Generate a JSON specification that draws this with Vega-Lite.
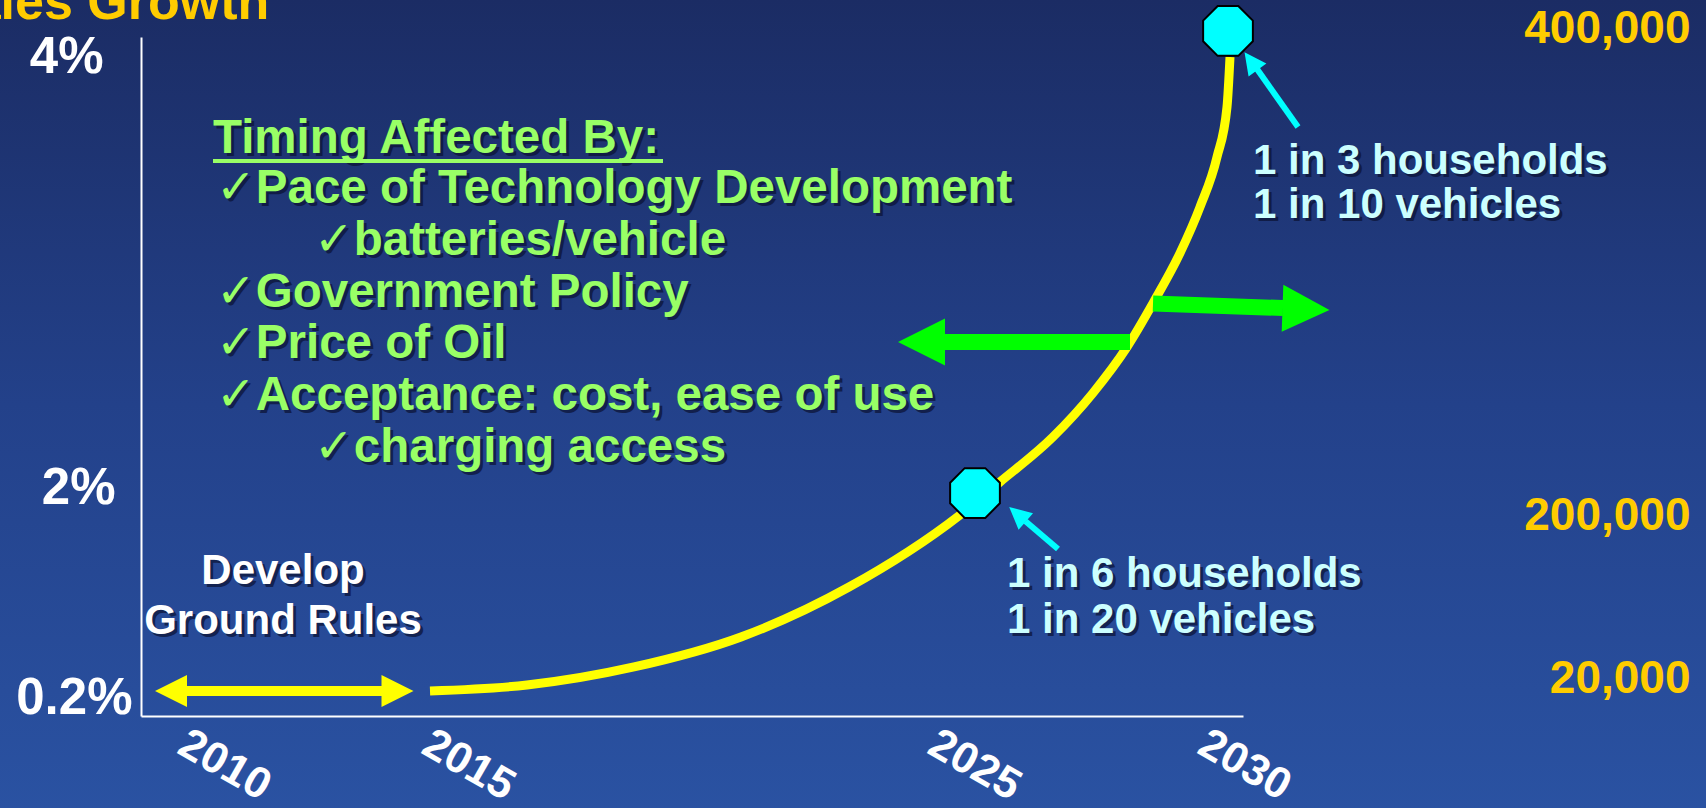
{
  "$schema": "https://vega.github.io/schema/vega-lite/v6.json",
  "width": 1706,
  "height": 808,
  "autosize": {"type": "none"},
  "padding": 0,
  "background": "#23418a",
  "config": {
    "view": {
      "stroke": null,
      "fill": {"gradient": "linear", "x1": 0, "y1": 0, "x2": 0, "y2": 1, "stops": [{"offset": 0, "color": "#1b2c64"}, {"offset": 0.5, "color": "#23418a"}, {"offset": 1, "color": "#2a52a2"}]}
    },
    "font": "Liberation Sans"
  },
  "title": {
    "text": "Sales Growth",
    "anchor": "start",
    "frame": "group",
    "font": "Liberation Sans",
    "fontSize": 52,
    "fontWeight": "bold",
    "color": "#FFCC00",
    "dx": -63,
    "dy": 30,
    "offset": 0
  },
  "datasets": {
    "curve": [
      {"year": 2014.12, "pct": 0.26},
      {"year": 2016.06, "pct": 0.311},
      {"year": 2018.2, "pct": 0.466},
      {"year": 2020.34, "pct": 0.723},
      {"year": 2022.5, "pct": 1.151},
      {"year": 2024.72, "pct": 1.769},
      {"year": 2025.52, "pct": 2.028},
      {"year": 2026.58, "pct": 2.237},
      {"year": 2027.38, "pct": 2.441},
      {"year": 2028.06, "pct": 2.654},
      {"year": 2028.58, "pct": 2.858},
      {"year": 2029.12, "pct": 3.09},
      {"year": 2029.52, "pct": 3.304},
      {"year": 2029.86, "pct": 3.536},
      {"year": 2030.06, "pct": 3.768},
      {"year": 2030.12, "pct": 4.0}
    ],
    "markers": [
      {"year": 2025.02, "pct": 1.957},
      {"year": 2030.08, "pct": 4.121}
    ],
    "bullets": [
      {"text": "Timing Affected By:", "year": 2009.78, "pct": 3.555},
      {"text": "✓Pace of Technology Development", "year": 2009.84, "pct": 3.322},
      {"text": "✓batteries/vehicle", "year": 2011.8, "pct": 3.081},
      {"text": "✓Government Policy", "year": 2009.84, "pct": 2.84},
      {"text": "✓Price of Oil", "year": 2009.84, "pct": 2.603},
      {"text": "✓Acceptance: cost, ease of use", "year": 2009.84, "pct": 2.362},
      {"text": "✓charging access", "year": 2011.8, "pct": 2.121}
    ],
    "develop": [
      {"text": "Develop", "year": 2011.18, "pct": 1.177},
      {"text": "Ground Rules", "year": 2011.18, "pct": 0.749}
    ],
    "households": [
      {"text": "1 in 6 households", "year": 2025.66, "pct": 1.151},
      {"text": "1 in 20 vehicles", "year": 2025.66, "pct": 0.757},
      {"text": "1 in 3 households", "year": 2030.58, "pct": 3.457},
      {"text": "1 in 10 vehicles", "year": 2030.58, "pct": 3.253}
    ],
    "counts": [{"count": 20000}, {"count": 200000}, {"count": 400000}]
  },
  "layer": [
    {
      "encoding": {
        "x": {
          "field": "year",
          "type": "quantitative",
          "scale": {"domain": [2008.34, 2030.38], "range": [141, 1243], "nice": false, "zero": false},
          "axis": {
            "values": [2010, 2015, 2025, 2030],
            "format": "d",
            "title": null,
            "grid": false,
            "ticks": false,
            "offset": -92,
            "domainColor": "#ffffff",
            "domainWidth": 2,
            "labelAngle": 30,
            "labelAlign": "center",
            "labelBaseline": "middle",
            "labelPadding": 49,
            "labelOffset": {"condition": [{"test": "datum.value == 2030", "value": 20}, {"test": "datum.value == 2015", "value": -6}], "value": 0},
            "labelFont": "Liberation Sans",
            "labelFontSize": 44,
            "labelFontWeight": "bold",
            "labelColor": "#ffffff",
            "labelFlush": false,
            "labelOverlap": false
          }
        },
        "y": {
          "field": "pct",
          "type": "quantitative",
          "scale": {"domain": [0, 0.2, 2, 4, 4.093], "range": [716, 698, 488, 57, 37], "nice": false, "zero": false},
          "axis": {
            "orient": "left",
            "values": [0.2, 2, 4],
            "labelExpr": "datum.value + '%'",
            "title": null,
            "grid": false,
            "ticks": false,
            "offset": -141,
            "domainColor": "#ffffff",
            "domainWidth": 2,
            "labelPadding": {"condition": [{"test": "datum.value == 4", "value": 38}, {"test": "datum.value == 2", "value": 26}], "value": 9},
            "labelFont": "Liberation Sans",
            "labelFontSize": 51,
            "labelFontWeight": "bold",
            "labelColor": "#ffffff",
            "labelFlush": false,
            "labelOverlap": false
          }
        }
      },
      "layer": [
        {
          "data": {"values": [{"year": 2009.12, "pct": 0.26, "year2": 2013.32, "pct2": 0.26}]},
          "mark": {"type": "rule", "color": "#FFFF00", "strokeWidth": 10},
          "encoding": {"x2": {"field": "year2"}, "y2": {"field": "pct2"}}
        },
        {
          "data": {"values": [{"year": 2008.94, "pct": 0.26}]},
          "mark": {"type": "point", "shape": "M-1,-1L1,0L-1,1Z", "size": 1024, "angle": 180, "filled": true, "color": "#FFFF00", "opacity": 1}
        },
        {
          "data": {"values": [{"year": 2013.47, "pct": 0.26}]},
          "mark": {"type": "point", "shape": "M-1,-1L1,0L-1,1Z", "size": 1024, "angle": 0, "filled": true, "color": "#FFFF00", "opacity": 1}
        },
        {
          "data": {"name": "curve"},
          "mark": {"type": "line", "color": "#FFFF00", "strokeWidth": 9, "interpolate": "monotone"}
        },
        {
          "data": {"values": [
            {"year": 2028.12, "pct": 2.677, "year2": 2024.42, "pct2": 2.677},
            {"year": 2028.58, "pct": 2.856, "year2": 2031.18, "pct2": 2.835}
          ]},
          "mark": {"type": "rule", "color": "#00FF00", "strokeWidth": 16, "strokeCap": "butt"},
          "encoding": {"x2": {"field": "year2"}, "y2": {"field": "pct2"}}
        },
        {
          "data": {"values": [{"year": 2023.95, "pct": 2.677}]},
          "mark": {"type": "point", "shape": "M-1,-1L1,0L-1,1Z", "size": 2209, "angle": 180, "filled": true, "color": "#00FF00", "opacity": 1}
        },
        {
          "data": {"values": [{"year": 2031.64, "pct": 2.83}]},
          "mark": {"type": "point", "shape": "M-1,-1L1,0L-1,1Z", "size": 2209, "angle": 2, "filled": true, "color": "#00FF00", "opacity": 1}
        },
        {
          "data": {"values": [
            {"year": 2031.48, "pct": 3.675, "year2": 2030.66, "pct2": 3.944},
            {"year": 2026.68, "pct": 1.477, "year2": 2026.03, "pct2": 1.715}
          ]},
          "mark": {"type": "rule", "color": "#00FFFF", "strokeWidth": 6, "strokeCap": "butt"},
          "encoding": {"x2": {"field": "year2"}, "y2": {"field": "pct2"}}
        },
        {
          "data": {"values": [{"year": 2030.54, "pct": 3.981}]},
          "mark": {"type": "point", "shape": "M0,-1L1,1L-1,1Z", "size": 484, "angle": 324, "filled": true, "color": "#00FFFF", "opacity": 1}
        },
        {
          "data": {"values": [{"year": 2025.87, "pct": 1.775}]},
          "mark": {"type": "point", "shape": "M0,-1L1,1L-1,1Z", "size": 484, "angle": 311, "filled": true, "color": "#00FFFF", "opacity": 1}
        },
        {
          "data": {"name": "markers"},
          "mark": {"type": "point", "shape": "M-0.383,-0.924L0.383,-0.924L0.924,-0.383L0.924,0.383L0.383,0.924L-0.383,0.924L-0.924,0.383L-0.924,-0.383Z", "size": 2900, "filled": true, "fill": "#00FFFF", "stroke": "#000000", "strokeWidth": 2, "opacity": 1, "fillOpacity": 1, "strokeOpacity": 1}
        },
        {
          "data": {"name": "bullets"},
          "mark": {"type": "text", "align": "left", "baseline": "alphabetic", "font": "Liberation Sans, DejaVu Sans", "fontWeight": "bold", "fontSize": 47.5, "color": "#0b1233", "opacity": 0.7, "dx": 3, "dy": 3},
          "encoding": {"text": {"field": "text"}}
        },
        {
          "data": {"name": "bullets"},
          "mark": {"type": "text", "align": "left", "baseline": "alphabetic", "font": "Liberation Sans, DejaVu Sans", "fontWeight": "bold", "fontSize": 47.5, "color": "#99FF66"},
          "encoding": {"text": {"field": "text"}}
        },
        {
          "data": {"values": [{"year": 2009.78, "pct": 3.517, "year2": 2018.78, "pct2": 3.517}]},
          "mark": {"type": "rule", "color": "#99FF66", "strokeWidth": 4},
          "encoding": {"x2": {"field": "year2"}, "y2": {"field": "pct2"}}
        },
        {
          "data": {"name": "develop"},
          "mark": {"type": "text", "align": "center", "baseline": "alphabetic", "font": "Liberation Sans", "fontWeight": "bold", "fontSize": 42, "color": "#0b1233", "opacity": 0.7, "dx": 3, "dy": 3},
          "encoding": {"text": {"field": "text"}}
        },
        {
          "data": {"name": "develop"},
          "mark": {"type": "text", "align": "center", "baseline": "alphabetic", "font": "Liberation Sans", "fontWeight": "bold", "fontSize": 42, "color": "#ffffff"},
          "encoding": {"text": {"field": "text"}}
        },
        {
          "data": {"name": "households"},
          "mark": {"type": "text", "align": "left", "baseline": "alphabetic", "font": "Liberation Sans", "fontWeight": "bold", "fontSize": 42, "color": "#0b1233", "opacity": 0.7, "dx": 3, "dy": 3},
          "encoding": {"text": {"field": "text"}}
        },
        {
          "data": {"name": "households"},
          "mark": {"type": "text", "align": "left", "baseline": "alphabetic", "font": "Liberation Sans", "fontWeight": "bold", "fontSize": 42, "color": "#CCFFFF"},
          "encoding": {"text": {"field": "text"}}
        }
      ]
    },
    {
      "data": {"name": "counts"},
      "mark": {"type": "point", "opacity": 0},
      "encoding": {
        "y": {
          "field": "count",
          "type": "quantitative",
          "scale": {"domain": [0, 20000, 200000, 400000], "range": [716, 678, 515, 28], "nice": false, "zero": false},
          "axis": {
            "orient": "right",
            "values": [20000, 200000, 400000],
            "format": ",d",
            "title": null,
            "grid": false,
            "ticks": false,
            "domain": false,
            "offset": -16,
            "labelPadding": 0,
            "labelAlign": "right",
            "labelFont": "Liberation Sans",
            "labelFontSize": 46,
            "labelFontWeight": "bold",
            "labelColor": "#FFCC00",
            "labelFlush": false,
            "labelOverlap": false
          }
        }
      }
    }
  ],
  "resolve": {"scale": {"y": "independent"}, "axis": {"y": "independent"}}
}
